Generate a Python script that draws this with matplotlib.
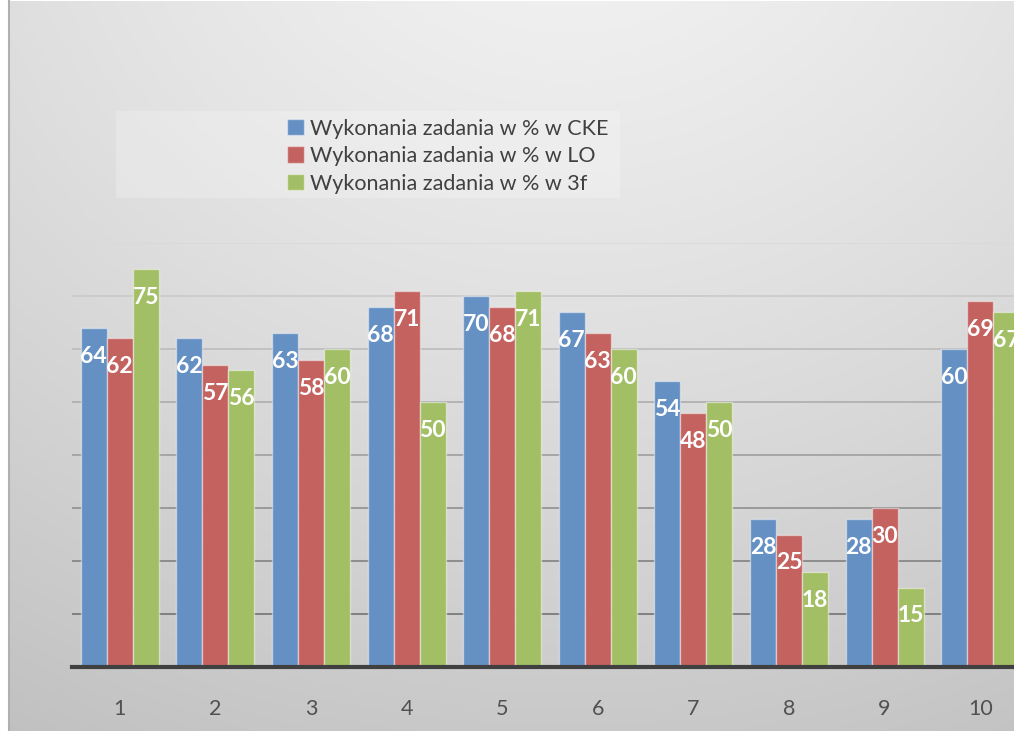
import numpy as np
import matplotlib
matplotlib.use("Agg")
import matplotlib.pyplot as plt
from matplotlib.patches import Rectangle
from matplotlib.lines import Line2D

categories = ["1", "2", "3", "4", "5", "6", "7", "8", "9", "10"]
series_names = ["Wykonania zadania w % w CKE",
                "Wykonania zadania w % w LO",
                "Wykonania zadania w % w 3f"]
cke = [64, 62, 63, 68, 70, 67, 54, 28, 28, 60]
lo = [62, 57, 58, 71, 68, 63, 48, 25, 30, 69]
f3 = [75, 56, 60, 50, 71, 60, 50, 18, 15, 67]
colors = ["#6590c4", "#c46260", "#a3bf65"]

W, H = 1014, 731
fig = plt.figure(figsize=(W / 100, H / 100), dpi=100)
fig.patch.set_facecolor("white")

# background gradient
bg = fig.add_axes([8 / W, 0, 1 - 8 / W, 1 - 1 / H])
yy, xx = np.mgrid[0:H, 0:W - 8]
cx, cy = 560, -150
d = np.sqrt(((xx - cx) / 1.15) ** 2 + (yy - cy) ** 2)
d = d / d.max()
val = 0.955 - 0.2 * d ** 1.3
img = np.dstack([val, val, val])
bg.imshow(img, aspect="auto", extent=[0, 1, 0, 1], origin="upper")
bg.set_axis_off()
fig.add_artist(Line2D([8.5 / W, 8.5 / W], [0, 1], color="#b0b0b0", lw=1.5))

# legend light rectangle
fig.add_artist(Rectangle((116 / W, 1 - 198 / H), (620 - 116) / W, 87 / H,
                         transform=fig.transFigure, facecolor="white",
                         alpha=0.22, edgecolor="none"))

left, right = 72, 1028
ax = fig.add_axes([left / W, (H - 667) / H, (right - left) / W, (667 - 243) / H])
ax.patch.set_alpha(0)
x = np.arange(1, len(categories) + 1)
w = 0.272
for i, (vals, c, name) in enumerate(zip([cke, lo, f3], colors, series_names)):
    bars = ax.bar(x + (i - 1) * w, vals, w, color=c, edgecolor=(1, 1, 1, 0.45),
                  linewidth=1.0, label=name, zorder=3)
    for b, v in zip(bars, vals):
        ax.annotate(str(v), (b.get_x() + b.get_width() / 2, v),
                    xytext=(0, -20.5), textcoords="offset points",
                    ha="center", va="center", color="white",
                    fontsize=16.5, fontweight="bold", family="Lato", zorder=4)

ax.set_xlim(0.5, 10.5)
ax.set_ylim(0, 80)
ax.set_yticks(np.arange(10, 81, 10))
ax.set_yticklabels([])
ax.tick_params(axis="y", length=0)
ax.yaxis.grid(True, zorder=0, lw=1.2)
ax.set_axisbelow(True)
gl = ax.get_ygridlines()
for k, line in enumerate(gl):
    t = k / (len(gl) - 1)
    g = 0.45 + 0.40 * t
    line.set_color((g, g, g))
ax.set_xticks(x)
ax.set_xticklabels(categories, fontsize=15.5, family="Lato", color="#505050")
ax.tick_params(axis="x", length=0, pad=23)
for s in ["top", "right", "left"]:
    ax.spines[s].set_visible(False)
ax.spines["bottom"].set_linewidth(3)
ax.spines["bottom"].set_color("#404040")
ax.spines["bottom"].set_zorder(5)

leg = fig.legend(loc="upper left", bbox_to_anchor=(278 / W, 1 - 110 / H),
                 frameon=False, prop={"family": "Lato", "size": 15.5},
                 handlelength=0.8, handleheight=0.8, handletextpad=0.3,
                 labelspacing=0.35, borderaxespad=0)
for t in leg.get_texts():
    t.set_color("#404040")

fig.savefig("out.png", dpi=100, facecolor="white")
